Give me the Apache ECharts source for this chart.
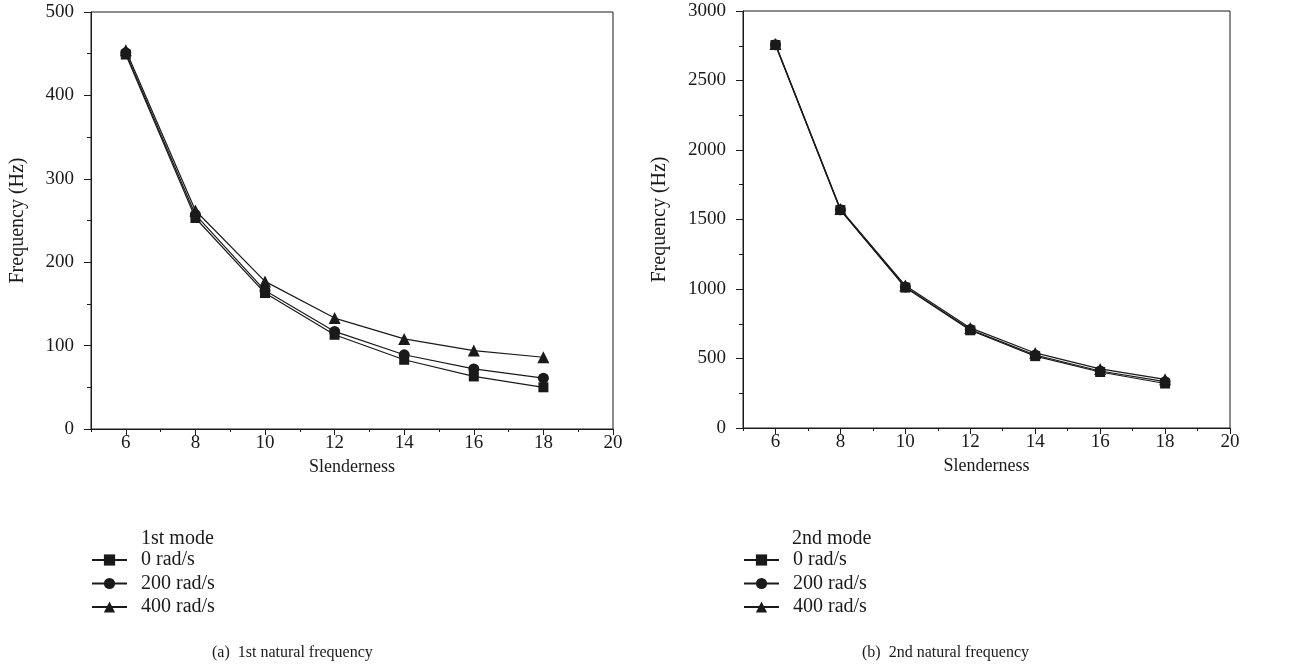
<!DOCTYPE html>
<html>
<head>
<meta charset="utf-8">
<script src="https://cdn.jsdelivr.net/npm/echarts@6/dist/echarts.min.js"></script>
<style>
  html, body { margin: 0; padding: 0; background: #fff; }
  #main { width: 1293px; height: 667px; }
</style>
</head>
<body>
<div id="main"></div>
<script>
// slenderness values
var slenderness = [6, 8, 10, 12, 14, 16, 18];
var speedNames = ['0 rad/s', '200 rad/s', '400 rad/s'];
var xMajorTicks = [6, 8, 10, 12, 14, 16, 18, 20];

// 1st natural frequency (Hz)
var mode1_0 = [449, 253, 163, 113, 83, 63, 50];
var mode1_200 = [451, 257, 166, 117, 89, 72, 61];
var mode1_400 = [454, 262, 177, 133, 108, 94, 86];

// 2nd natural frequency (Hz)
var mode2_0 = [2755, 1568, 1010, 703, 517, 403, 320];
var mode2_200 = [2758, 1570, 1015, 708, 525, 410, 333];
var mode2_400 = [2762, 1575, 1025, 720, 540, 425, 350];

var font = '"Liberation Serif", "DejaVu Serif", serif';
var black = '#1a1a1a';

function pairs(ys) {
	var out = [];
	for (var i = 0; i < slenderness.length; i++) {
		out.push([slenderness[i], ys[i]]);
	}
	return out;
}

var symbols = ['rect', 'circle', 'triangle'];
var symSizes = [10, 11, 12];

function makeSeries(idx, lists) {
	var s = [];
	for (var i = 0; i < lists.length; i++) {
		s.push({
			name: speedNames[i],
			type: 'line',
			xAxisIndex: idx,
			yAxisIndex: idx,
			data: pairs(lists[i]),
			symbol: symbols[i],
			symbolSize: symSizes[i],
			showAllSymbol: true,
			itemStyle: { color: black },
			lineStyle: { color: black, width: 1.2 },
			z: 3 - i
		});
	}
	return s;
}

function plain(v) { return String(v); }

// main x axis: long ticks and labels at even values
function xAxisOpt(idx) {
	return {
		gridIndex: idx,
		type: 'value',
		min: 5, max: 20, interval: 1,
		name: 'Slenderness',
		nameLocation: 'middle',
		nameGap: 25,
		nameTextStyle: { fontFamily: font, fontSize: 18, color: black },
		axisLine: { lineStyle: { color: black, width: 1 } },
		axisTick: { show: true, length: 6, customValues: xMajorTicks, lineStyle: { color: black } },
		axisLabel: {
			fontFamily: font, fontSize: 19, color: black, margin: 5,
			customValues: xMajorTicks, formatter: plain
		},
		splitLine: { show: false }
	};
}

// second x axis on the same grid, only for the short odd ticks
function xMinorAxisOpt(idx) {
	return {
		gridIndex: idx,
		type: 'value',
		position: 'bottom',
		min: 5, max: 20, interval: 1,
		axisLine: { show: false },
		axisTick: { show: true, length: 3, lineStyle: { color: black } },
		axisLabel: { show: false },
		splitLine: { show: false }
	};
}

function yAxisOpt(idx, max, step, nameGap) {
	return {
		gridIndex: idx,
		type: 'value',
		min: 0, max: max, interval: step,
		name: 'Frequency (Hz)',
		nameLocation: 'middle',
		nameGap: nameGap,
		nameTextStyle: { fontFamily: font, fontSize: 20, color: black },
		axisLine: { show: true, lineStyle: { color: black, width: 1 } },
		axisTick: { show: true, length: 7, lineStyle: { color: black } },
		minorTick: { show: true, splitNumber: 2, length: 4, lineStyle: { color: black } },
		axisLabel: { fontFamily: font, fontSize: 19, color: black, margin: 17, formatter: plain },
		splitLine: { show: false }
	};
}

function legendOpt(left) {
	return {
		orient: 'vertical',
		left: left,
		top: 545,
		itemWidth: 35,
		itemHeight: 14,
		itemGap: 3.5,
		data: speedNames,
		selectedMode: false,
		textStyle: { fontFamily: font, fontSize: 20, color: black, padding: [0, 0, 0, 9] }
	};
}

function titleText(text, left, top, size) {
	return {
		text: text, left: left, top: top,
		textStyle: { fontFamily: font, fontSize: size, fontWeight: 'normal', color: black }
	};
}

var chart = echarts.init(document.getElementById('main'));
var option = {
	backgroundColor: '#fff',
	animation: false,
	title: [
		titleText('1st mode', 136, 524, 20),
		titleText('2nd mode', 787, 524, 20),
		titleText('(a)  1st natural frequency', 207, 640, 16),
		titleText('(b)  2nd natural frequency', 857, 640, 16)
	],
	legend: [legendOpt(86), legendOpt(738)],
	grid: [
		{ left: 91, right: 680, top: 12, bottom: 238, show: true, borderColor: black, borderWidth: 1, backgroundColor: 'transparent' },
		{ left: 743, right: 63, top: 11, bottom: 239, show: true, borderColor: black, borderWidth: 1, backgroundColor: 'transparent' }
	],
	xAxis: [xAxisOpt(0), xAxisOpt(1), xMinorAxisOpt(0), xMinorAxisOpt(1)],
	yAxis: [yAxisOpt(0, 500, 100, 63), yAxisOpt(1, 3000, 500, 73)],
	series: makeSeries(0, [mode1_0, mode1_200, mode1_400])
		.concat(makeSeries(1, [mode2_0, mode2_200, mode2_400]))
};
chart.setOption(option);
</script>
</body>
</html>
